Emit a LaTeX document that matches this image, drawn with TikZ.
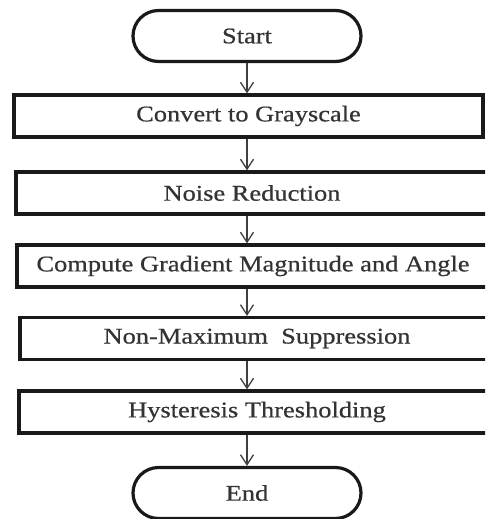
\documentclass[tikz,border=0pt]{standalone}
\usepackage{fontspec}
\setmainfont{Liberation Serif}[FakeStretch=1.18, FakeBold=0.6]
\usetikzlibrary{shapes.misc,arrows.meta}
\tikzset{
  stepbox/.style={draw=black!90, line width=3.2pt, rectangle, inner sep=0pt,
    minimum height=42pt, font=\fontsize{22.4}{26}\selectfont, text=black!80},
  terminal/.style={draw=black!90, line width=3.2pt, rounded rectangle, inner sep=0pt,
    minimum width=228pt, minimum height=51pt, font=\fontsize{22.4}{26}\selectfont, text=black!80},
  flow/.style={draw=black!75, line width=1.3pt,
    -{Straight Barb[length=10pt,width=13pt,line width=1.3pt]}}
}
\begin{document}
\begin{tikzpicture}[x=1pt,y=-1pt]
  \useasboundingbox (0,0) rectangle (485,519);
  \clip (0,0) rectangle (485,519);
  \fill[white] (0,0) rectangle (485,519);

  % terminals
  \node[terminal] (start) at (247,36) {Start};
  \node[terminal] (stop)  at (247,493) {End};

  % processing steps
  \node[stepbox, minimum width=469pt] (c1) at (248.5,116) {Convert to Grayscale};
  \node[stepbox, minimum width=472pt] (c2) at (252,193) {Noise Reduction};
  \node[stepbox, minimum width=472pt] (c3) at (253,266) {Compute Gradient Magnitude and Angle};
  \node[stepbox, minimum width=474pt] (c4) at (257,338.5) {Non-Maximum\ \ Suppression};
  \node[stepbox, minimum width=476pt] (c5) at (257,412) {Hysteresis Thresholding};

  % connectors
  \coordinate (ax) at (247,0);
  \draw[flow] (ax |- start.south) -- (ax |- c1.north);
  \draw[flow] (ax |- c1.south) -- (ax |- c2.north);
  \draw[flow] (ax |- c2.south) -- (ax |- c3.north);
  \draw[flow] (ax |- c3.south) -- (ax |- c4.north);
  \draw[flow] (ax |- c4.south) -- (ax |- c5.north);
  \draw[flow] (ax |- c5.south) -- (ax |- stop.north);
\end{tikzpicture}
\end{document}
